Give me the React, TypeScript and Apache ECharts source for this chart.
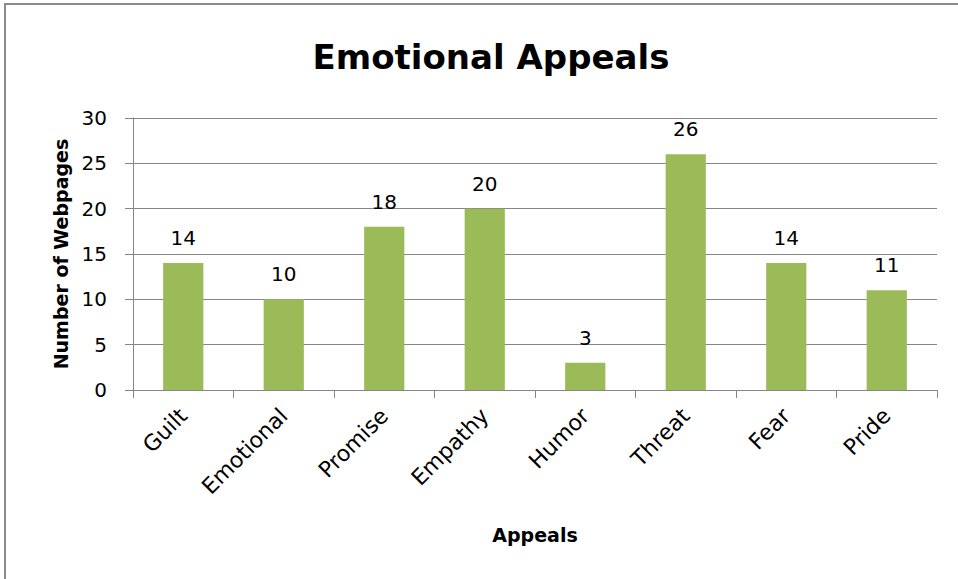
import React, { useEffect, useRef } from "react";
import * as echarts from "echarts";

const categories = ["Guilt", "Emotional", "Promise", "Empathy", "Humor", "Threat", "Fear", "Pride"];
const values = [14, 10, 18, 20, 3, 26, 14, 11];
const titleText = "Emotional Appeals";
const xName = "Appeals";
const yName = "Number of Webpages";

const FONT = "'DejaVu Sans', 'Open Sans', sans-serif";

export default function App() {
  const ref = useRef<HTMLDivElement>(null);
  useEffect(() => {
    if (!ref.current) return;
    const chart = echarts.init(ref.current, undefined, { renderer: "svg" });
    chart.setOption({
      animation: false,
      backgroundColor: "#ffffff",
      title: {
        text: titleText,
        left: 486,
        top: 35,
        textAlign: "center",
        textStyle: { fontFamily: FONT, fontSize: 34, fontWeight: "bold", color: "#000" },
      },
      graphic: [
        {
          type: "rect",
          shape: { x: 5, y: 4, width: 1000, height: 700 },
          style: { fill: "none", stroke: "#8a8a8a", lineWidth: 2 },
          silent: true,
        },
      ],
      grid: { left: 133, right: 21, top: 118, bottom: 189, containLabel: false },
      xAxis: {
        type: "category",
        data: categories,
        name: xName,
        nameLocation: "middle",
        nameGap: 135,
        nameTextStyle: { fontFamily: FONT, fontSize: 19, fontWeight: "bold", color: "#000" },
        axisLine: { lineStyle: { color: "#868686", width: 1 } },
        axisTick: { show: true, length: 8, lineStyle: { color: "#868686" }, alignWithLabel: false },
        axisLabel: { rotate: 45, margin: 22, fontFamily: FONT, fontSize: 22, color: "#000" },
      },
      yAxis: {
        type: "value",
        min: 0,
        max: 30,
        interval: 5,
        name: yName,
        nameLocation: "middle",
        nameGap: 58,
        nameTextStyle: { fontFamily: FONT, fontSize: 19, fontWeight: "bold", color: "#000" },
        axisLine: { show: true, lineStyle: { color: "#868686", width: 1 } },
        axisTick: { show: true, length: 8, lineStyle: { color: "#868686" } },
        axisLabel: { margin: 26, fontFamily: FONT, fontSize: 20, color: "#000" },
        splitLine: { show: true, lineStyle: { color: "#868686", width: 1 } },
      },
      series: [
        {
          type: "bar",
          data: values,
          barWidth: "40%",
          itemStyle: { color: "#9bbb59" },
          label: {
            show: true,
            position: "top",
            distance: 15,
            fontFamily: FONT,
            fontSize: 20,
            color: "#000",
          },
        },
      ],
    });
    return () => chart.dispose();
  }, []);
  return (
    <div
      ref={ref}
      style={{ position: "fixed", left: 0, top: 0, width: 958, height: 579 }}
    />
  );
}
